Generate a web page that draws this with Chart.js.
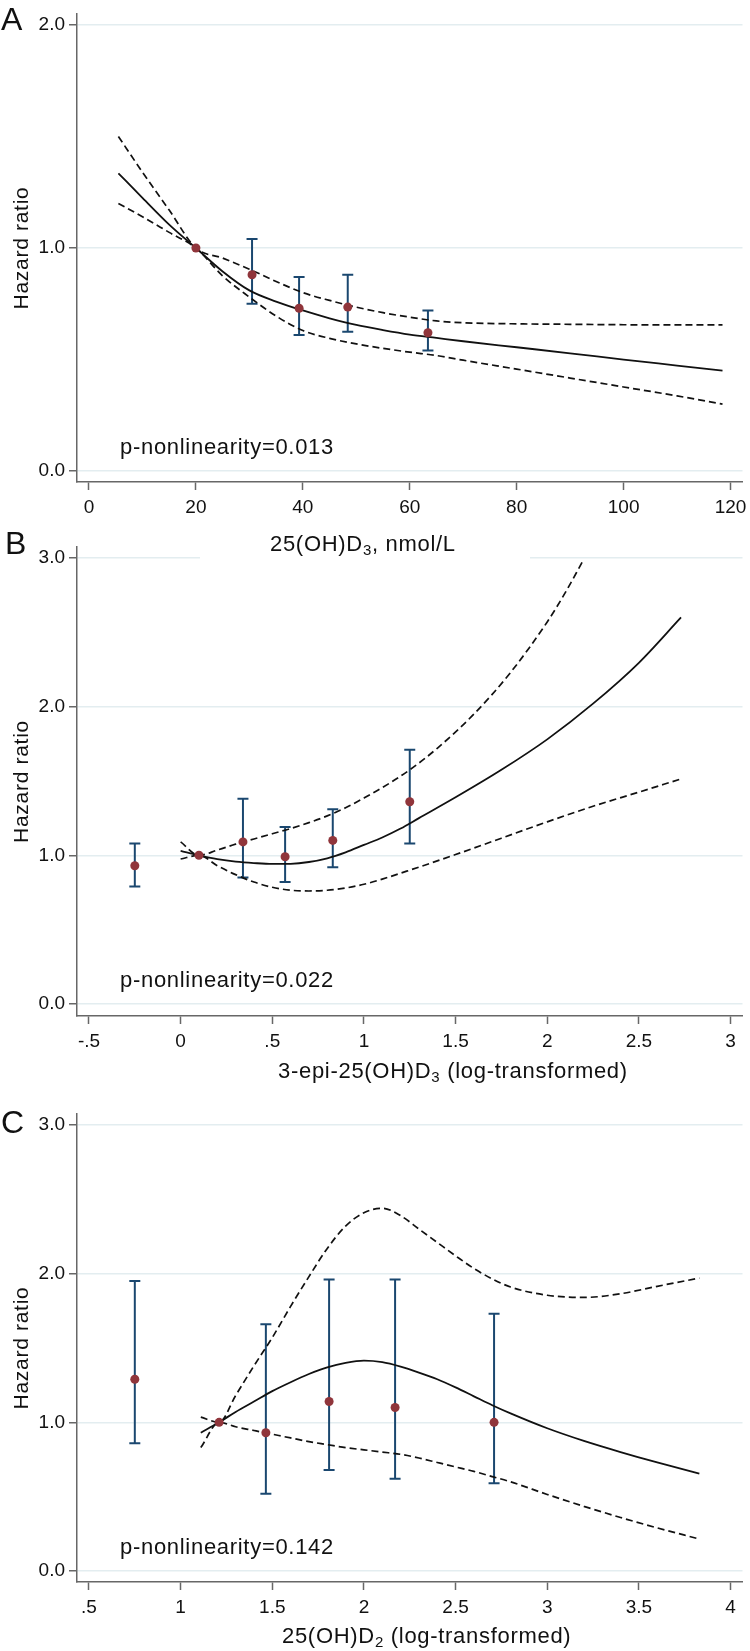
<!DOCTYPE html>
<html>
<head>
<meta charset="utf-8">
<script src="https://cdn.jsdelivr.net/npm/chart.js@4/dist/chart.umd.min.js"></script>
<style>
  html, body { margin:0; padding:0; background:#fff; }
  #wrap { position:relative; width:750px; height:1651px; overflow:hidden; background:#fff; }
  canvas { position:absolute; left:0; }
</style>
</head>
<body>
<div id="wrap">
  <canvas id="panelA" width="750" height="570" style="top:0;z-index:3"></canvas>
  <canvas id="panelB" width="750" height="570" style="top:530px;z-index:2"></canvas>
  <canvas id="panelC" width="750" height="556" style="top:1095px;z-index:1"></canvas>
</div>
<script>
/* ================= DATA ================= */

// panel A : 25(OH)D3, nmol/L
const aCurveX = [5.5, 10, 15, 20, 25, 30, 35, 40, 45, 50, 55, 60, 65, 70, 80, 90, 100, 110, 118.5];
const aFit    = [1.335, 1.225, 1.105, 1.0, 0.895, 0.81, 0.76, 0.72, 0.685, 0.655, 0.632, 0.612, 0.597, 0.582, 0.555, 0.528, 0.50, 0.473, 0.45];
const aUpper  = [1.50, 1.34, 1.17, 1.0, 0.955, 0.905, 0.85, 0.80, 0.765, 0.735, 0.71, 0.69, 0.673, 0.665, 0.66, 0.658, 0.656, 0.655, 0.655];
const aLower  = [1.20, 1.14, 1.07, 1.0, 0.875, 0.78, 0.695, 0.63, 0.595, 0.57, 0.55, 0.533, 0.518, 0.497, 0.457, 0.417, 0.377, 0.337, 0.30];
const aPtX  = [20, 30.5, 39.3, 48.4, 63.4];
const aPtHR = [1.0, 0.88, 0.73, 0.735, 0.62];
const aPtLo = [null, 0.75, 0.61, 0.625, 0.54];
const aPtHi = [null, 1.04, 0.87, 0.88, 0.72];
const aXTicks = [0, 20, 40, 60, 80, 100, 120];
const aYTicks = [0, 1, 2];

// panel B : 3-epi-25(OH)D3 (log-transformed)
const bFitX  = [0, 0.1, 0.2, 0.3, 0.4, 0.5, 0.6, 0.7, 0.8, 0.9, 1.0, 1.1, 1.2, 1.3, 1.5, 1.75, 2.0, 2.25, 2.5, 2.73];
const bFit   = [1.03, 1.0, 0.975, 0.958, 0.948, 0.942, 0.943, 0.955, 0.98, 1.02, 1.07, 1.12, 1.18, 1.25, 1.39, 1.575, 1.78, 2.02, 2.295, 2.6];
const bUpperX = [0, 0.1, 0.2, 0.3, 0.4, 0.5, 0.6, 0.7, 0.8, 0.9, 1.0, 1.1, 1.25, 1.4, 1.6, 1.8, 2.0, 2.1, 2.19];
const bUpper  = [1.09, 1.0, 1.035, 1.075, 1.11, 1.145, 1.18, 1.22, 1.265, 1.32, 1.385, 1.455, 1.575, 1.72, 1.95, 2.23, 2.57, 2.77, 2.97];
const bLowerX = [0, 0.1, 0.2, 0.3, 0.4, 0.5, 0.6, 0.7, 0.8, 0.9, 1.0, 1.1, 1.25, 1.5, 1.75, 2.0, 2.25, 2.5, 2.72];
const bLower  = [0.975, 1.0, 0.93, 0.87, 0.82, 0.785, 0.765, 0.76, 0.765, 0.78, 0.805, 0.84, 0.9, 1.005, 1.115, 1.225, 1.33, 1.425, 1.51];
const bPtX  = [-0.25, 0.10, 0.34, 0.57, 0.83, 1.25];
const bPtHR = [0.93, 1.00, 1.09, 0.99, 1.10, 1.36];
const bPtLo = [0.79, null, 0.85, 0.82, 0.92, 1.08];
const bPtHi = [1.08, null, 1.38, 1.19, 1.31, 1.71];
const bXTicks = [-0.5, 0, 0.5, 1, 1.5, 2, 2.5, 3];
const bYTicks = [0, 1, 2, 3];

// panel C : 25(OH)D2 (log-transformed)
const cCurveX = [1.11, 1.21, 1.3, 1.4, 1.5, 1.6, 1.7, 1.8, 1.9, 2.0, 2.1, 2.2, 2.3, 2.4, 2.5, 2.6, 2.7, 2.8, 3.0, 3.2, 3.4, 3.6, 3.83];
const cFit    = [0.93, 1.0, 1.07, 1.14, 1.21, 1.27, 1.325, 1.37, 1.40, 1.415, 1.405, 1.375, 1.335, 1.29, 1.235, 1.175, 1.115, 1.06, 0.96, 0.875, 0.80, 0.73, 0.655];
const cUpper  = [1.035, 1.0, 1.18, 1.38, 1.57, 1.78, 1.98, 2.17, 2.32, 2.41, 2.44, 2.39, 2.30, 2.21, 2.12, 2.035, 1.965, 1.91, 1.855, 1.84, 1.865, 1.915, 1.97];
const cLower  = [0.83, 1.0, 0.97, 0.945, 0.92, 0.895, 0.87, 0.85, 0.83, 0.815, 0.80, 0.785, 0.76, 0.73, 0.70, 0.67, 0.635, 0.60, 0.515, 0.435, 0.36, 0.29, 0.215];
const cPtX  = [0.75, 1.21, 1.465, 1.81, 2.17, 2.71];
const cPtHR = [1.29, 1.00, 0.93, 1.14, 1.10, 1.00];
const cPtLo = [0.86, null, 0.52, 0.68, 0.62, 0.59];
const cPtHi = [1.95, null, 1.66, 1.96, 1.96, 1.73];
const cXTicks = [0.5, 1, 1.5, 2, 2.5, 3, 3.5, 4];
const cYTicks = [0, 1, 2, 3];

/* ================= STYLE ================= */
const FONT = '"Liberation Sans", Arial, sans-serif';
const NAVY = '#1a476f';
const MAROON = '#90353b';
const AXIS = '#676767';
const GRID = '#e3edf0';
const INK = '#111';

Chart.defaults.font.family = FONT;
Chart.defaults.font.size = 19;
Chart.defaults.color = INK;

/* ================= HELPERS ================= */
const pts = (xs, ys) => xs.map((x, i) => ({x: x, y: ys[i]}));

function errorBars(xs, lo, hi){
  const out = [];
  xs.forEach((x, i) => {
    if(lo[i] == null) return;
    out.push({x: x, y: lo[i]}, {x: x, y: hi[i]}, {x: x, y: null});
  });
  return out;
}

// stata style numbers: .5 instead of 0.5
function stataNum(v){
  return String(v).replace(/^(-?)0\./, '$1.');
}

function panelText(p){
  return {
    id: 'panelText',
    afterDraw(chart){
      const ctx = chart.ctx;
      const area = chart.chartArea;
      const ys = chart.scales.y;
      ctx.save();
      if('letterSpacing' in ctx) ctx.letterSpacing = '0.7px';
      ctx.textAlign = 'left';
      ctx.textBaseline = 'alphabetic';

      if(p.mask){
        ctx.fillStyle = '#fff';
        ctx.fillRect(p.mask[0], p.mask[1], p.mask[2], p.mask[3]);
      }
      ctx.fillStyle = INK;

      // panel letter
      ctx.font = '32px ' + FONT;
      ctx.fillText(p.letter, p.letterPos[0], p.letterPos[1]);

      // x title with subscript
      let x = p.titlePos[0];
      p.title.forEach(part => {
        ctx.font = (part.sub ? '15px ' : '22px ') + FONT;
        ctx.fillText(part.t, x, p.titlePos[1] + (part.sub ? 4 : 0));
        x += ctx.measureText(part.t).width;
      });

      // p-nonlinearity
      ctx.font = '22px ' + FONT;
      ctx.fillText(p.note, 120, ys.getPixelForValue(0) - 17);

      // y title
      ctx.font = '21px ' + FONT;
      ctx.translate(28, (area.top + area.bottom) / 2);
      ctx.rotate(-Math.PI / 2);
      ctx.textAlign = 'center';
      ctx.fillText('Hazard ratio', 0, 0);
      ctx.restore();
    }
  };
}

function makePanel(p){
  const H = p.height;
  const curve = (xs, ys, dash) => ({
    data: pts(xs, ys), showLine: true, borderColor: INK,
    borderWidth: dash ? 1.7 : 1.8, borderDash: dash ? [7, 4] : [],
    pointRadius: 0, cubicInterpolationMode: 'monotone', order: 1
  });

  const datasets = [
    {data: pts(p.ptX, p.ptHR), showLine: false, pointRadius: 4.5,
     pointBackgroundColor: MAROON, pointBorderWidth: 0, order: 0},
    {data: errorBars(p.ptX, p.ptLo, p.ptHi), showLine: true, spanGaps: false,
     borderColor: NAVY, borderWidth: 2, pointStyle: 'line', pointRadius: 5.5,
     pointBorderColor: NAVY, pointBorderWidth: 2, order: 2},
    curve(p.fitX, p.fit, false),
    curve(p.upX, p.up, true),
    curve(p.loX, p.lo, true)
  ];

  new Chart(document.getElementById(p.id), {
    type: 'scatter',
    data: {datasets: datasets},
    options: {
      responsive: false,
      animation: false,
      events: [],
      layout: {padding: {top: p.top, right: 7, left: 0, bottom: 0}},
      plugins: {legend: {display: false}, tooltip: {enabled: false}},
      scales: {
        x: {
          type: 'linear', min: p.xMin, max: p.xMax,
          afterBuildTicks: s => { s.ticks = p.xTicks.map(v => ({value: v})); },
          afterFit: s => { s.height = H - p.bottom; s.paddingLeft = 0; s.paddingRight = 0; },
          ticks: {padding: 6, maxRotation: 0, autoSkip: false, callback: v => stataNum(v)},
          grid: {drawOnChartArea: false, tickLength: 8, tickColor: AXIS, tickWidth: 1.5},
          border: {color: AXIS, width: 1.5}
        },
        y: {
          type: 'linear', min: p.yMin, max: p.yMax,
          afterBuildTicks: s => { s.ticks = p.yTicks.map(v => ({value: v})); },
          afterFit: s => { s.width = 77; s.paddingTop = 0; s.paddingBottom = 0; },
          ticks: {padding: 4, autoSkip: false, callback: v => v.toFixed(1)},
          grid: {color: GRID, lineWidth: 1.5, tickLength: 8, tickColor: AXIS, tickWidth: 1.5},
          border: {color: AXIS, width: 1.5}
        }
      }
    },
    plugins: [panelText(p)]
  });
}

/* ================= PANELS ================= */
makePanel({
  id: 'panelA', height: 570, top: 14, bottom: 482,
  xMin: -2.243, xMax: 122.24, yMin: -0.049, yMax: 2.049,
  xTicks: aXTicks, yTicks: aYTicks,
  fitX: aCurveX, fit: aFit, upX: aCurveX, up: aUpper, loX: aCurveX, lo: aLower,
  ptX: aPtX, ptHR: aPtHR, ptLo: aPtLo, ptHi: aPtHi,
  letter: 'A', letterPos: [1, 30],
  title: [{t: '25(OH)D'}, {t: '3', sub: true}, {t: ', nmol/L'}], titlePos: [270, 551],
  note: 'p-nonlinearity=0.013',
  mask: [200, 528, 330, 34]
});

makePanel({
  id: 'panelB', height: 570, top: 17, bottom: 486,
  xMin: -0.5654, xMax: 3.0654, yMin: -0.081, yMax: 3.074,
  xTicks: bXTicks, yTicks: bYTicks,
  fitX: bFitX, fit: bFit, upX: bUpperX, up: bUpper, loX: bLowerX, lo: bLower,
  ptX: bPtX, ptHR: bPtHR, ptLo: bPtLo, ptHi: bPtHi,
  letter: 'B', letterPos: [5, 24],
  title: [{t: '3-epi-25(OH)D'}, {t: '3', sub: true}, {t: ' (log-transformed)'}], titlePos: [278, 548],
  note: 'p-nonlinearity=0.022'
});

makePanel({
  id: 'panelC', height: 556, top: 19, bottom: 487,
  xMin: 0.4346, xMax: 4.0654, yMin: -0.074, yMax: 3.074,
  xTicks: cXTicks, yTicks: cYTicks,
  fitX: cCurveX, fit: cFit, upX: cCurveX, up: cUpper, loX: cCurveX, lo: cLower,
  ptX: cPtX, ptHR: cPtHR, ptLo: cPtLo, ptHi: cPtHi,
  letter: 'C', letterPos: [1, 38],
  title: [{t: '25(OH)D'}, {t: '2', sub: true}, {t: ' (log-transformed)'}], titlePos: [282, 548],
  note: 'p-nonlinearity=0.142'
});
</script>
</body>
</html>
